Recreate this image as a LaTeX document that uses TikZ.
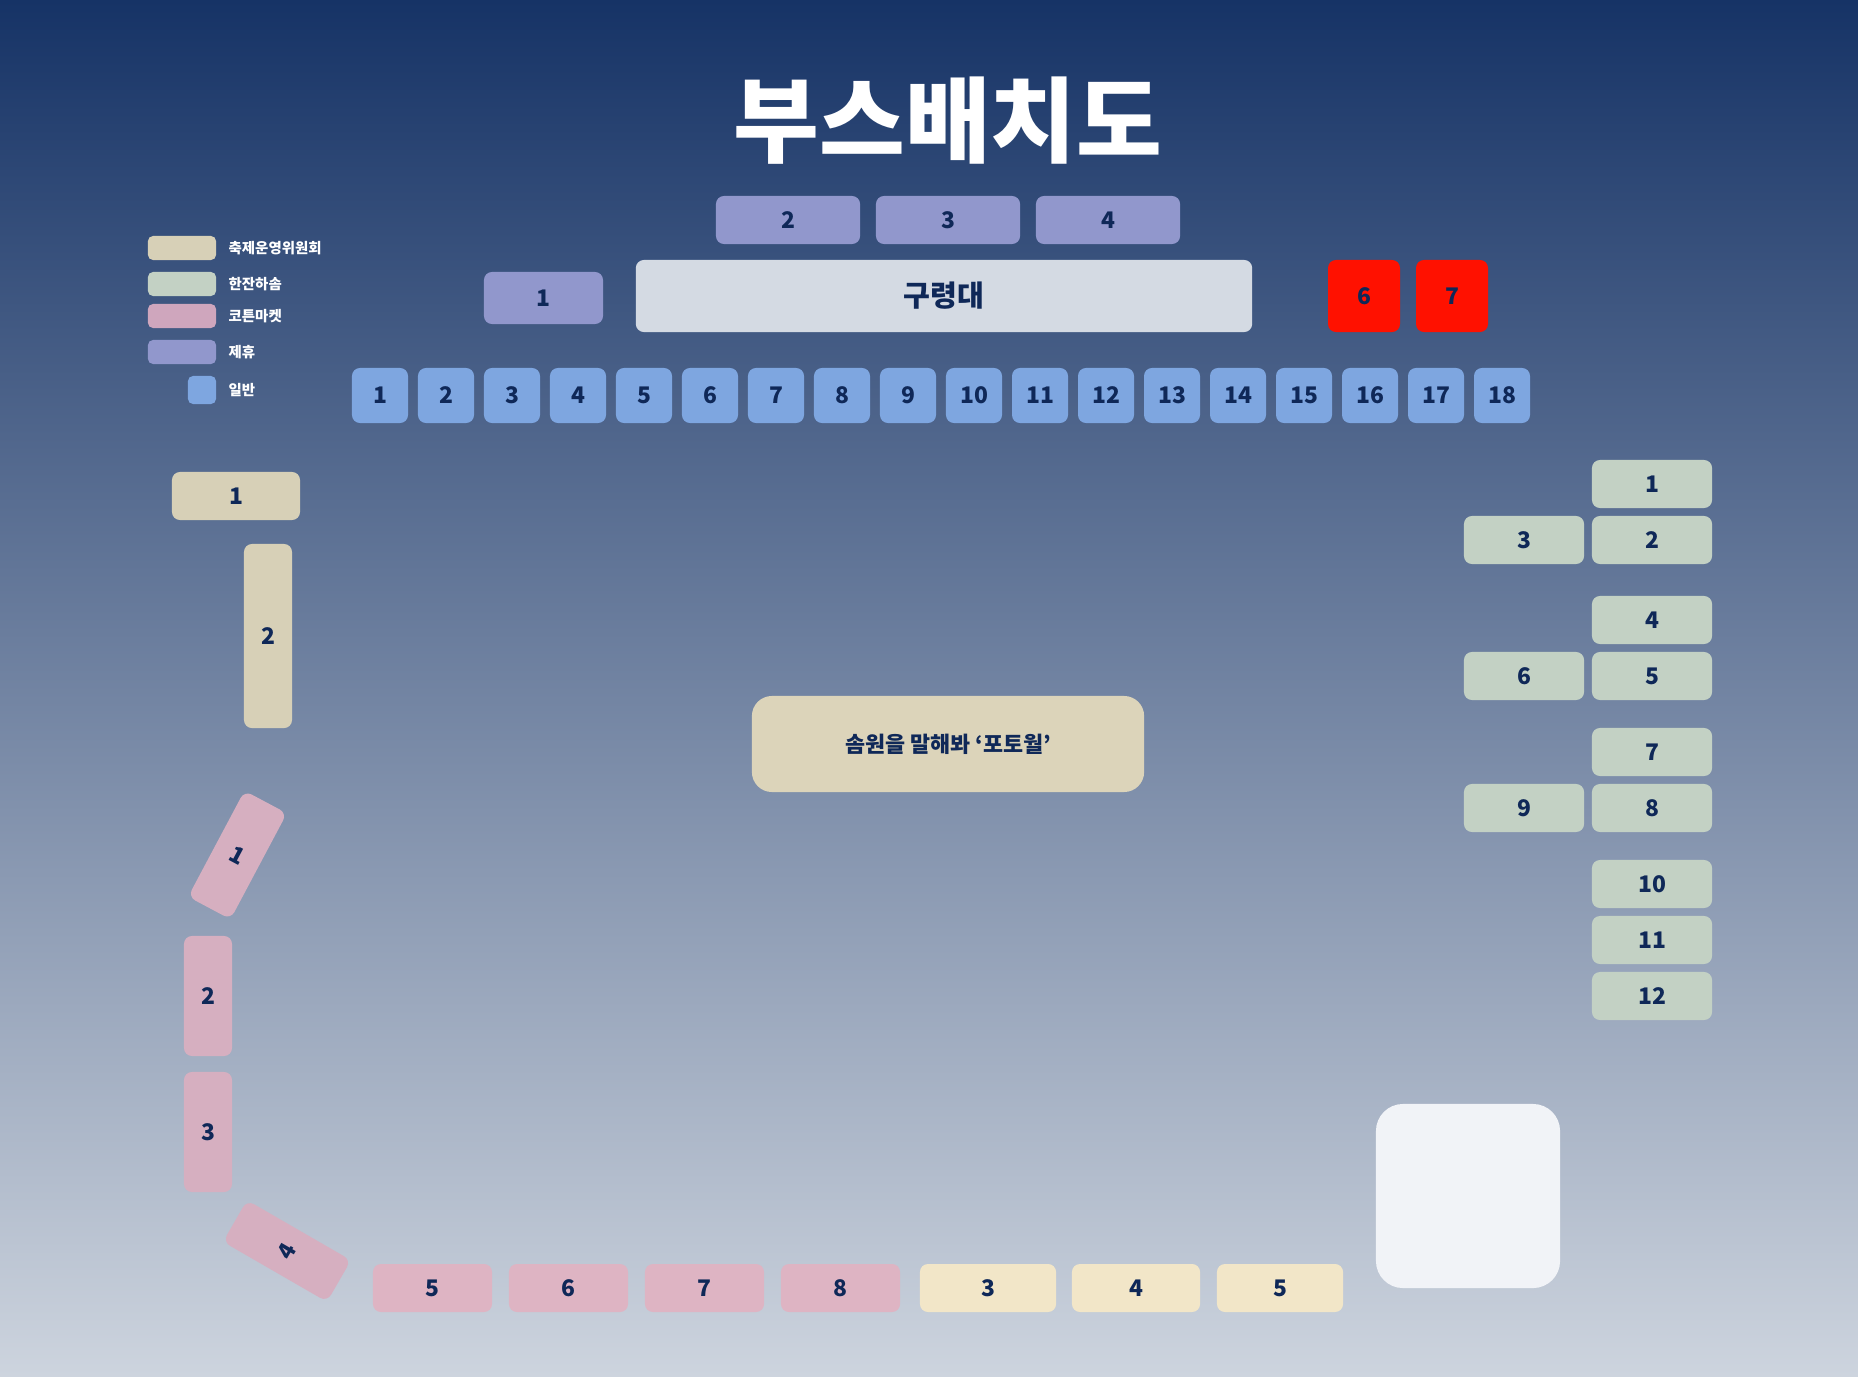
\documentclass[tikz,border=0pt]{standalone}
\usepackage{fontspec}
\setmainfont{Noto Sans CJK KR}
\usetikzlibrary{positioning}

\definecolor{bgtop}{HTML}{163366}
\definecolor{bgbot}{HTML}{CDD4DE}
\definecolor{ink}{HTML}{0F2858}
\definecolor{festa}{HTML}{D7D0B7}
\definecolor{festalight}{HTML}{F2E6C8}
\definecolor{hanjan}{HTML}{C3D1C4}
\definecolor{cotton}{HTML}{D6AFC0}
\definecolor{cottonlight}{HTML}{DEB4C3}
\definecolor{cottonkey}{HTML}{CFA6BD}
\definecolor{jehyu}{HTML}{9197CC}
\definecolor{ilban}{HTML}{7EA6E0}
\definecolor{stage}{HTML}{D4DAE3}
\definecolor{hotred}{HTML}{FF1100}
\definecolor{photo}{HTML}{DCD4BA}
\definecolor{blank}{HTML}{F1F3F7}

\begin{document}
\begin{tikzpicture}[x=0.01cm, y=-0.01cm,
	booth/.style={rectangle, rounded corners=0.08cm, inner sep=0pt, text=ink, font=\bfseries\fontsize{6.5}{8}\selectfont},
	keybox/.style={rectangle, rounded corners=0.05cm, inner sep=0pt, minimum width=0.68cm, minimum height=0.24cm},
	keytext/.style={anchor=west, inner sep=0pt, text=white, font=\bfseries\fontsize{4.1}{5}\selectfont}]

	\useasboundingbox (0,0) rectangle (1858,1376);
	\shade[top color=bgtop, bottom color=bgbot] (0,0) rectangle (1858,1376);   % background

	% title
	\node[text=white, font=\bfseries\fontsize{26.5}{30}\selectfont] (title) at (948,121) {부스배치도};

	% legend
	\node[keybox, fill=festa] (key1) at (182,248) {};
	\node[keybox, fill=hanjan] (key2) at (182,284) {};
	\node[keybox, fill=cottonkey] (key3) at (182,316) {};
	\node[keybox, fill=jehyu] (key4) at (182,352) {};
	\node[keybox, fill=ilban, minimum width=0.28cm, minimum height=0.28cm] (key5) at (202,390) {};
	\node[keytext] (keytext1) at (228,248) {축제운영위원회};
	\node[keytext] (keytext2) at (228,284) {한잔하솜};
	\node[keytext] (keytext3) at (228,316) {코튼마켓};
	\node[keytext] (keytext4) at (228,352) {제휴};
	\node[keytext] (keytext5) at (228,390) {일반};

	% stage and partner booths
	\node[booth, fill=stage, minimum width=6.16cm, minimum height=0.72cm, font=\bfseries\fontsize{8.3}{10}\selectfont] (stage) at (944,296) {구령대};
	\node[booth, fill=jehyu, minimum width=1.19cm, minimum height=0.52cm] (jehyu1) at (543.5,298) {1};
	\foreach \n/\x in {2/788,3/948,4/1108}
		\node[booth, fill=jehyu, minimum width=1.44cm, minimum height=0.48cm] (jehyu\n) at (\x,220) {\n};
	\foreach \n/\x in {6/1364,7/1452}
		\node[booth, fill=hotred, minimum width=0.72cm, minimum height=0.72cm] (jehyu\n) at (\x,296) {\n};

	% general booths
	\foreach \i in {1,...,18}
		\node[booth, fill=ilban, minimum width=0.56cm, minimum height=0.55cm] (ilban\i) at ({380+66*(\i-1)},395.5) {\i};

	% hanjan booths, right side
	\foreach \n/\x/\y in {1/1652/484, 2/1652/540, 3/1524/540, 4/1652/620, 5/1652/676, 6/1524/676,
			7/1652/752, 8/1652/808, 9/1524/808, 10/1652/884, 11/1652/940, 12/1652/996}
		\node[booth, fill=hanjan, minimum width=1.2cm, minimum height=0.48cm] (hanjan\n) at (\x,\y) {\n};

	% festa booths
	\node[booth, fill=festa, minimum width=1.28cm, minimum height=0.48cm] (festa1) at (236,496) {1};
	\node[booth, fill=festa, minimum width=0.48cm, minimum height=1.84cm] (festa2) at (268,636) {2};
	\foreach \n/\x/\w in {3/988/1.36, 4/1136/1.28, 5/1280/1.26}
		\node[booth, fill=festalight, minimum width=\w cm, minimum height=0.48cm] (festa\n) at (\x,1288) {\n};

	% cotton market booths
	\node[booth, fill=cotton, minimum width=0.48cm, minimum height=1.2cm, rotate=-28] (cotton1) at (237.5,855) {1};
	\node[booth, fill=cotton, minimum width=0.48cm, minimum height=1.2cm] (cotton2) at (208,996) {2};
	\node[booth, fill=cotton, minimum width=0.48cm, minimum height=1.2cm] (cotton3) at (208,1132) {3};
	\node[booth, fill=cotton, minimum width=0.48cm, minimum height=1.2cm, rotate=60] (cotton4) at (287,1251) {4};
	\foreach \n/\x in {5/432.5,6/568.5,7/704.5,8/840.5}
		\node[booth, fill=cottonlight, minimum width=1.19cm, minimum height=0.48cm] (cotton\n) at (\x,1288) {\n};

	% photo wall and empty spot
	\node[booth, fill=photo, rounded corners=0.2cm, minimum width=3.92cm, minimum height=0.96cm, font=\bfseries\fontsize{6.2}{8}\selectfont] (photowall) at (948,744) {솜원을 말해봐 ‘포토월’};
	\node[booth, fill=blank, rounded corners=0.27cm, minimum width=1.84cm, minimum height=1.84cm] (blank) at (1468,1196) {};

\end{tikzpicture}
\end{document}
